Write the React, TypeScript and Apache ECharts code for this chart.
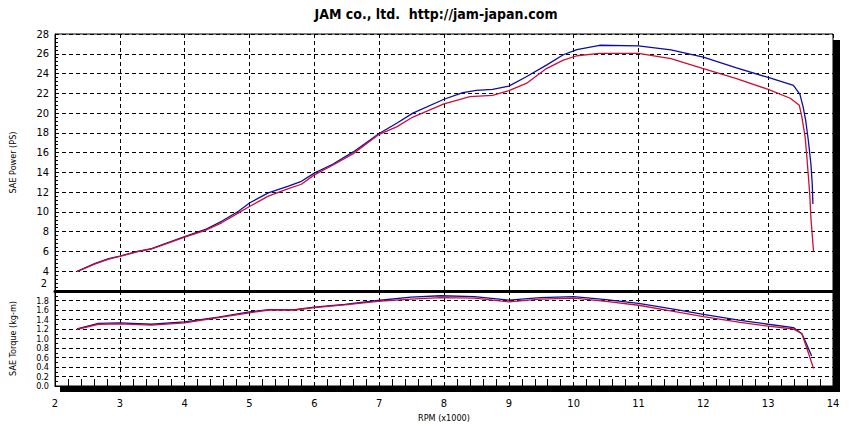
import { useEffect, useRef } from "react";
import * as echarts from "echarts";

// power curve (PS)
const powerRpmBlue = [
  2.34, 2.62, 2.83, 3.0, 3.29, 3.49, 3.7, 4.0, 4.31, 4.57, 4.83, 5.0, 5.29, 5.6, 5.8, 6.0, 6.29, 6.6,
  7.0, 7.27, 7.52, 8.0, 8.29, 8.5, 8.75, 9.0, 9.27, 9.58, 9.84, 10.05, 10.4, 11.0, 11.5, 12.0, 12.5,
  13.0, 13.39, 13.49, 13.54, 13.58, 13.62, 13.66, 13.68, 13.69,
];
const powerBlue = [
  4.0, 4.8, 5.27, 5.54, 6.04, 6.28, 6.8, 7.5, 8.2, 9.05, 10.07, 10.9, 11.93, 12.62, 13.1, 13.93, 14.85,
  16.07, 17.93, 18.97, 20.0, 21.4, 22.07, 22.3, 22.4, 22.73, 23.67, 24.85, 25.9, 26.43, 26.86, 26.8,
  26.4, 25.65, 24.6, 23.6, 22.8, 21.9, 20.6, 19.2, 17.2, 14.8, 12.8, 10.8,
];
const powerRpmRed = [
  2.34, 2.62, 2.83, 3.0, 3.29, 3.49, 3.7, 4.0, 4.31, 4.57, 4.83, 5.0, 5.29, 5.6, 5.8, 6.0, 6.29, 6.6,
  7.0, 7.27, 7.52, 8.0, 8.4, 8.75, 9.0, 9.27, 9.58, 9.84, 10.05, 10.4, 11.0, 11.5, 12.0, 12.5, 13.0,
  13.34, 13.48, 13.52, 13.57, 13.6, 13.64, 13.66, 13.7,
];
const powerRed = [
  3.95, 4.75, 5.22, 5.5, 6.0, 6.25, 6.75, 7.45, 8.1, 8.9, 9.9, 10.55, 11.6, 12.35, 12.8, 13.75, 14.75,
  15.9, 17.85, 18.6, 19.6, 20.93, 21.67, 21.8, 22.27, 23.0, 24.5, 25.35, 25.8, 26.05, 26.05, 25.5,
  24.5, 23.5, 22.4, 21.5, 20.8, 19.6, 17.6, 15.3, 11.9, 9.3, 6.0,
];

// torque curve (kg-m)
const torqueRpmBlue = [
  2.34, 2.67, 3.0, 3.49, 4.0, 4.52, 5.0, 5.3, 5.7, 6.0, 6.47, 6.98, 7.49, 7.95, 8.47, 9.0, 9.49, 10.0,
  10.5, 11.0, 11.54, 12.0, 12.57, 13.0, 13.39, 13.52, 13.59, 13.67,
];
const torqueBlue = [
  1.2, 1.32, 1.33, 1.3, 1.35, 1.45, 1.56, 1.61, 1.61, 1.66, 1.72, 1.8, 1.87, 1.9, 1.88, 1.81, 1.86,
  1.88, 1.82, 1.74, 1.62, 1.51, 1.38, 1.3, 1.23, 1.1, 0.89, 0.63,
];
const torqueRpmRed = [
  2.34, 2.67, 3.0, 3.49, 4.0, 4.52, 5.0, 5.3, 5.7, 6.0, 6.47, 6.98, 7.49, 7.95, 8.47, 9.0, 9.49, 10.0,
  10.5, 11.0, 11.54, 12.0, 12.57, 13.0, 13.39, 13.52, 13.59, 13.7,
];
const torqueRed = [
  1.19, 1.3, 1.31, 1.28, 1.33, 1.44, 1.54, 1.6, 1.6, 1.65, 1.71, 1.78, 1.83, 1.86, 1.85, 1.77, 1.83,
  1.85, 1.78, 1.7, 1.57, 1.46, 1.34, 1.26, 1.2, 1.1, 0.82, 0.37,
];

const BLUE = "#0c0ca6";
const RED = "#cc1034";
const FONT = "'Liberation Sans Narrow', 'DejaVu Sans Condensed', 'Liberation Sans', sans-serif";

const zip = (xs: number[], ys: number[]) => xs.map((x, i) => [x, ys[i]]);

const dashed = { show: true, lineStyle: { color: "#000", type: [4, 3] as any, width: 1 } };

function App() {
  const chartRef = useRef(null);

  useEffect(() => {
    const chart = echarts.init(chartRef.current, null, { renderer: "svg" });

    const labelStyle = { color: "#000", fontFamily: FONT, fontSize: 11 };

    const option = {
      animation: false,
      backgroundColor: "#fff",
      title: {
        text: "JAM co., ltd.  http://jam-japan.com",
        left: 431,
        top: 2,
        textAlign: "center",
        textStyle: { fontFamily: FONT, fontSize: 14, fontWeight: "bold", color: "#000" },
      },
      graphic: [
        // drop shadow of the plot frame (right and bottom strips)
        { type: "rect", shape: { x: 833, y: 40, width: 7, height: 352 }, style: { fill: "#000" } },
        { type: "rect", shape: { x: 60, y: 386, width: 780, height: 6 }, style: { fill: "#000" } },
        // the power axis "2" sits raised above the panel divider
        {
          type: "text",
          x: 47,
          y: 283,
          style: { text: "2", fill: "#000", font: `11px ${FONT}`, align: "right", verticalAlign: "middle" },
        },
      ],
      grid: [
        { left: 53, top: 34, width: 780, height: 257, show: true, backgroundColor: "#fff", borderColor: "#000", borderWidth: 1 },
        { left: 53, top: 291, width: 780, height: 95, show: true, backgroundColor: "#fff", borderColor: "#000", borderWidth: 1 },
      ],
      xAxis: [
        {
          type: "value",
          gridIndex: 0,
          min: 2,
          max: 14,
          interval: 1,
          axisLabel: { show: false },
          axisTick: { show: false },
          axisLine: { show: true, lineStyle: { color: "#000", width: 3 } },
          splitLine: dashed,
        },
        {
          type: "value",
          gridIndex: 1,
          min: 2,
          max: 14,
          interval: 1,
          name: "RPM (x1000)",
          nameLocation: "middle",
          nameGap: 27,
          nameTextStyle: { color: "#000", fontFamily: FONT, fontSize: 9 },
          axisLabel: { ...labelStyle, margin: 12 },
          axisTick: { show: false, inside: true },
          minorTick: { show: true, splitNumber: 5, length: 7, lineStyle: { color: "#000", width: 1 } },
          axisLine: { show: true, lineStyle: { color: "#000", width: 1 } },
          splitLine: dashed,
        },
      ],
      yAxis: [
        {
          type: "value",
          gridIndex: 0,
          min: 2,
          max: 28,
          interval: 2,
          name: "SAE Power (PS)",
          nameLocation: "middle",
          nameGap: 38,
          nameTextStyle: { color: "#000", fontFamily: FONT, fontSize: 9 },
          axisLabel: { ...labelStyle, margin: 6, showMinLabel: false },
          axisTick: { show: false, inside: true },
          minorTick: { show: true, splitNumber: 5, length: 3, lineStyle: { color: "#000" } },
          axisLine: { show: true, lineStyle: { color: "#000" } },
          splitLine: dashed,
        },
        {
          type: "value",
          gridIndex: 1,
          min: 0,
          max: 2,
          interval: 0.2,
          name: "SAE Torque (kg-m)",
          nameLocation: "middle",
          nameGap: 38,
          nameTextStyle: { color: "#000", fontFamily: FONT, fontSize: 9 },
          axisLabel: {
            color: "#000",
            fontFamily: FONT,
            fontSize: 9,
            lineHeight: 9,
            margin: 6,
            showMaxLabel: false,
            formatter: (v: number) => v.toFixed(1),
          },
          axisTick: { show: false, inside: true },
          minorTick: { show: true, splitNumber: 2, length: 3, lineStyle: { color: "#000" } },
          axisLine: { show: true, lineStyle: { color: "#000" } },
          splitLine: dashed,
        },
      ],
      series: [
        {
          name: "Power A",
          type: "line",
          xAxisIndex: 0,
          yAxisIndex: 0,
          showSymbol: false,
          data: zip(powerRpmBlue, powerBlue),
          lineStyle: { color: BLUE, width: 1.3 },
        },
        {
          name: "Power B",
          type: "line",
          xAxisIndex: 0,
          yAxisIndex: 0,
          showSymbol: false,
          data: zip(powerRpmRed, powerRed),
          lineStyle: { color: RED, width: 1.3 },
        },
        {
          name: "Torque A",
          type: "line",
          xAxisIndex: 1,
          yAxisIndex: 1,
          showSymbol: false,
          data: zip(torqueRpmBlue, torqueBlue),
          lineStyle: { color: BLUE, width: 1.3 },
        },
        {
          name: "Torque B",
          type: "line",
          xAxisIndex: 1,
          yAxisIndex: 1,
          showSymbol: false,
          data: zip(torqueRpmRed, torqueRed),
          lineStyle: { color: RED, width: 1.3 },
        },
      ],
    };

    chart.setOption(option as any);

    return () => {
      chart.dispose();
    };
  }, []);

  return (
    <div
      ref={chartRef}
      style={{ position: "fixed", left: 0, top: 0, width: "859px", height: "426px" }}
    />
  );
}

export default App;
